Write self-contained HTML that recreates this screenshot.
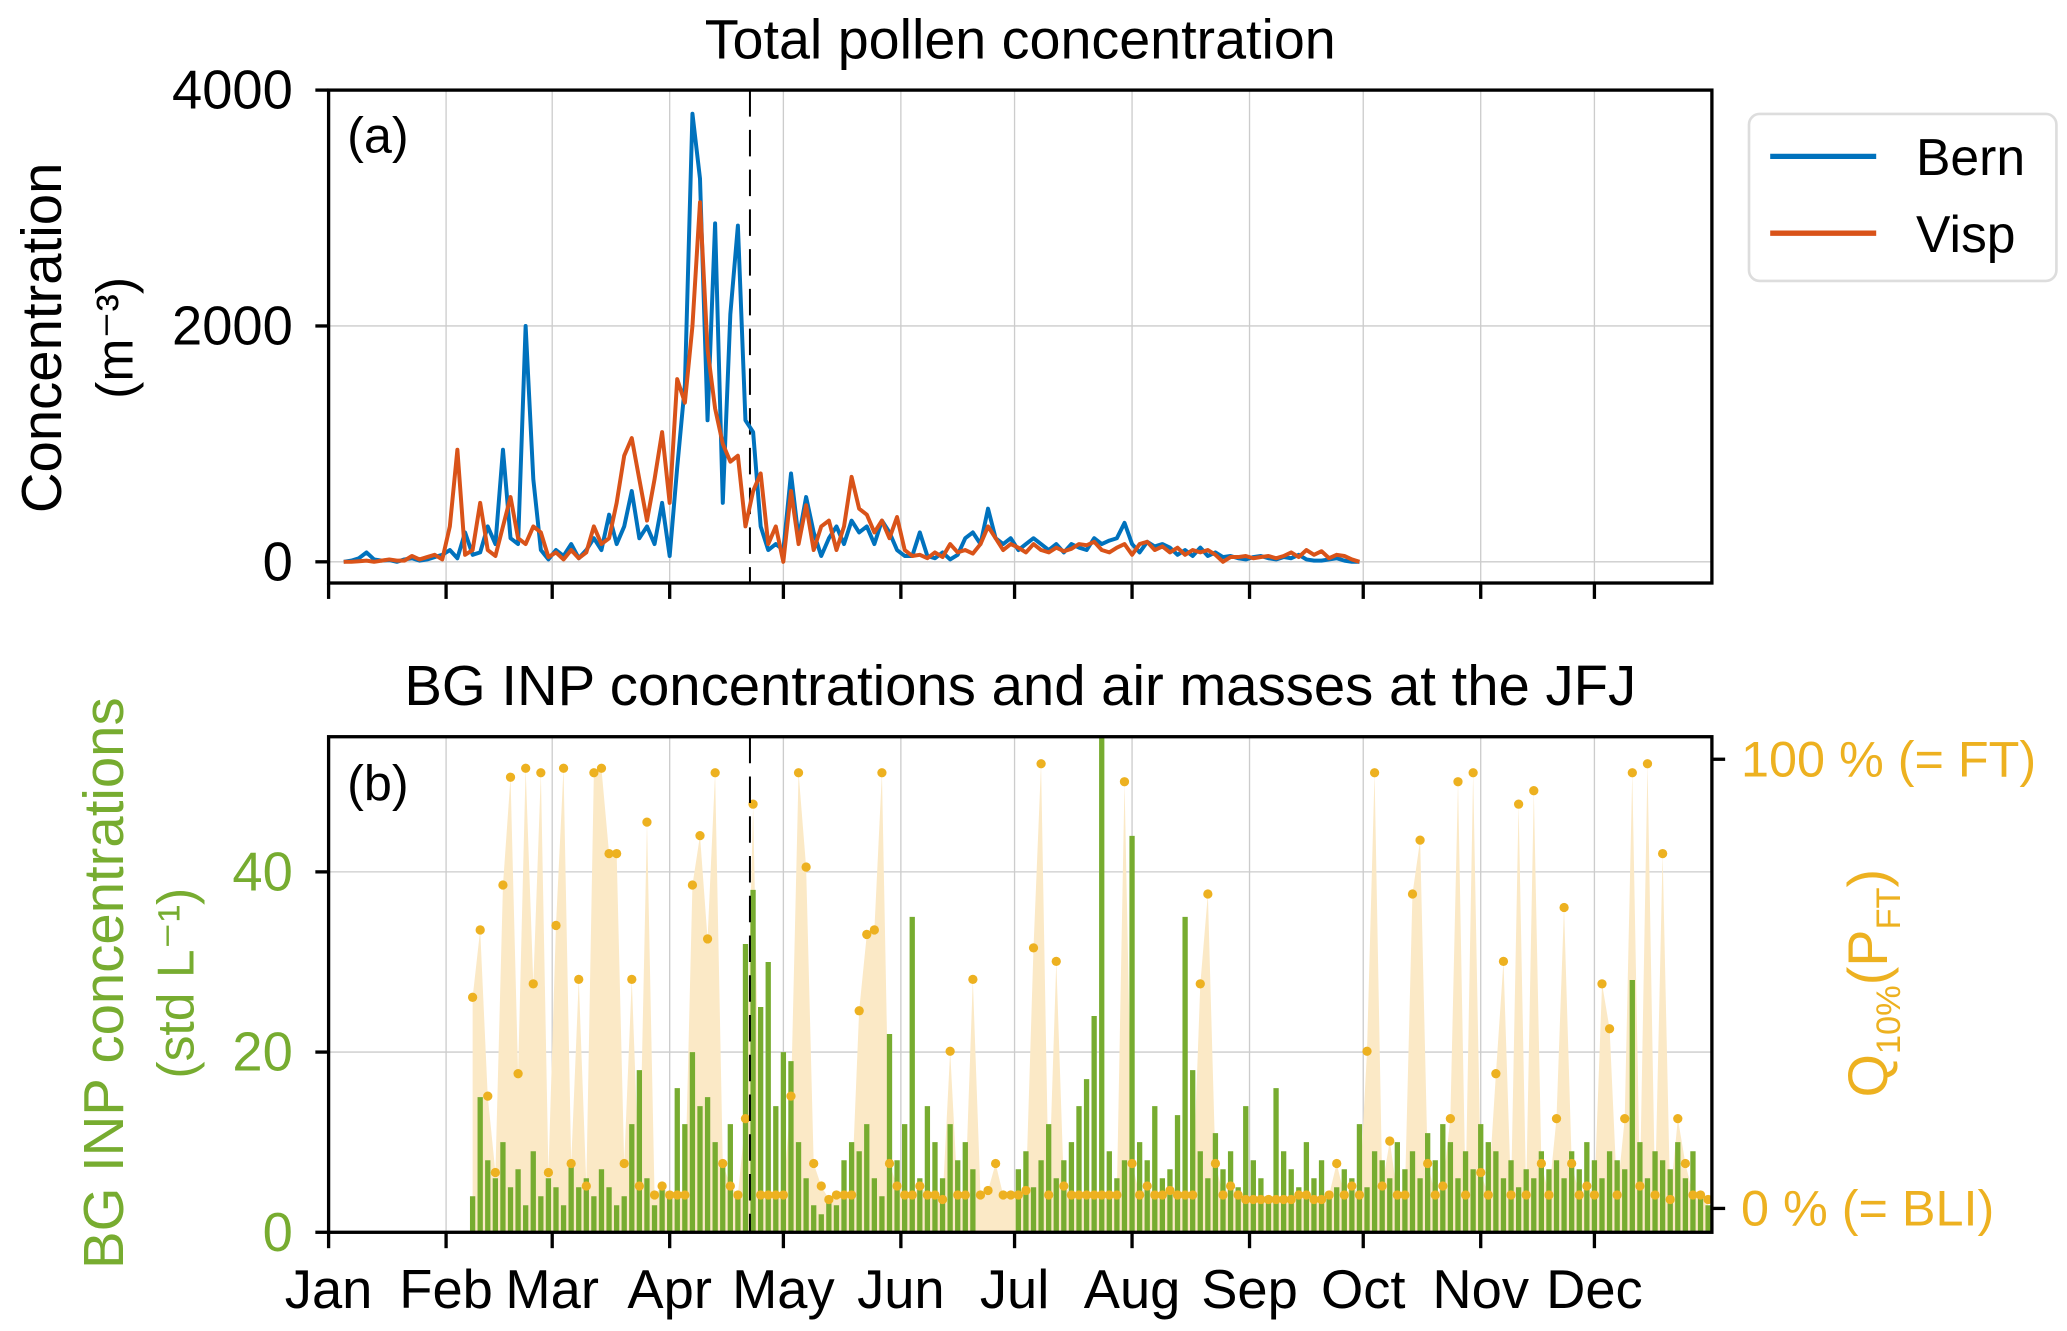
<!DOCTYPE html>
<html><head><meta charset="utf-8">
<style>
html,body{margin:0;padding:0;background:#fff;}
svg{display:block;font-family:"Liberation Sans",sans-serif;}
</style></head>
<body>
<svg id="chart" width="2067" height="1331" viewBox="0 0 1560 1004.5" preserveAspectRatio="none" xmlns="http://www.w3.org/2000/svg">
<g id="topPanel"></g>
<g id="botPanel"></g>
</svg>
<script>
// ---------- data ----------
const months = ["Jan","Feb","Mar","Apr","May","Jun","Jul","Aug","Sep","Oct","Nov","Dec"];
const monthStartDays = [0,31,59,90,120,151,181,212,243,273,304,334];
const pollenTicks = [0,2000,4000];
const inpTicks = [0,20,40];
const pollenStartDay = 4;
const pollenStepDays = 2;
const bern = [0,10,30,80,20,10,15,0,20,30,10,20,40,60,100,30,250,60,80,300,150,950,200,150,2000,700,100,20,100,50,150,30,100,200,100,400,150,300,600,200,300,150,500,50,800,1500,3800,3250,1200,2870,500,2100,2850,1200,1100,300,100,150,100,750,200,550,250,50,200,300,150,350,250,300,150,350,250,100,50,50,250,50,30,80,20,60,200,250,150,450,200,150,200,100,150,200,150,100,150,80,150,120,100,200,150,180,200,330,150,80,170,130,150,120,60,100,50,120,50,80,40,50,30,20,40,50,30,20,40,30,60,20,10,10,20,30,10,0,0];
const visp = [0,0,5,10,0,10,20,10,10,50,20,40,60,20,300,950,60,100,500,100,50,300,550,200,150,300,250,40,80,20,100,30,80,300,150,200,500,900,1050,700,350,700,1100,500,1550,1350,2000,3050,1800,1300,1000,850,900,300,600,750,150,300,0,600,150,480,100,300,350,100,300,720,450,400,250,350,200,380,100,50,60,30,80,40,150,80,100,70,150,300,200,100,150,120,80,150,100,80,120,90,110,150,140,170,100,80,120,150,60,150,170,100,130,80,120,60,100,80,100,60,0,40,40,50,30,40,50,30,50,80,40,100,60,90,30,60,50,20,0];
const inpStartDay = 38;
const inpStepDays = 2;
const inp = [4,15,8,6,10,5,7,3,9,4,6,5,
 3,8,5,6,4,7,5,3,4,12,18,6,
 3,5,4,16,12,20,14,15,10,8,12,4,
 32,38,25,30,14,20,19,10,6,3,2,4,
 3,8,10,9,12,6,4,22,8,12,35,6,
 14,10,6,12,8,10,7,null,null,null,null,null,
 7,9,5,8,12,6,8,10,14,17,24,55,
 9,6,8,44,10,8,14,6,7,13,35,18,
 9,6,11,7,9,5,14,8,6,4,16,9,
 7,5,10,6,8,4,5,7,6,12,5,9,
 8,6,10,7,9,6,11,8,12,10,6,9,
 7,12,10,9,6,8,5,7,6,9,7,8,
 6,9,7,10,8,6,9,8,7,28,10,6,
 9,8,7,10,6,9,4,3];
const qStartDay = 38;
const qStepDays = 2;
const qft = [0.47,0.62,0.25,0.08,0.72,0.96,0.3,0.98,0.5,0.97,0.08,0.63,0.98,0.1,0.51,0.05,0.97,0.98,0.79,0.79,0.1,0.51,0.05,0.86,0.03,0.05,0.03,0.03,0.03,0.72,0.83,0.6,0.97,0.1,0.05,0.03,0.2,0.9,0.03,0.03,0.03,0.03,0.25,0.97,0.76,0.1,0.05,0.02,0.03,0.03,0.03,0.44,0.61,0.62,0.97,0.1,0.05,0.03,0.03,0.05,0.03,0.03,0.02,0.35,0.03,0.03,0.51,0.03,0.04,0.1,0.03,0.03,0.03,0.04,0.58,0.99,0.03,0.55,0.05,0.03,0.03,0.03,0.03,0.03,0.03,0.03,0.95,0.1,0.03,0.05,0.03,0.03,0.04,0.03,0.03,0.03,0.5,0.7,0.1,0.03,0.05,0.03,0.02,0.02,0.02,0.02,0.02,0.02,0.02,0.03,0.03,0.02,0.02,0.03,0.1,0.03,0.05,0.03,0.35,0.97,0.05,0.15,0.03,0.03,0.7,0.82,0.1,0.03,0.05,0.2,0.95,0.03,0.97,0.08,0.03,0.3,0.55,0.03,0.9,0.03,0.93,0.1,0.03,0.2,0.67,0.1,0.03,0.05,0.03,0.5,0.4,0.03,0.2,0.97,0.05,0.99,0.03,0.79,0.02,0.2,0.1,0.03,0.03,0.02];

// ---------- layout ----------
const NS="http://www.w3.org/2000/svg";
const L=248, R=1292;
const xDay = d => L + d*(R-L)/365;
const A = {top:68, zero:424, bottom:440};
const yPollen = v => A.zero - v*(A.zero-A.top)/4000;
const B = {top:556, bottom:930};
const yInp = v => B.bottom - v*(B.bottom-B.top)/55;
const yQ = f => 912 - f*(912-573);

function el(tag, attrs, parent, text){
  const e=document.createElementNS(NS,tag);
  for(const k in attrs) e.setAttribute(k,attrs[k]);
  if(text!==undefined) e.textContent=text;
  parent.appendChild(e); return e;
}
const topG=document.getElementById('topPanel'), botG=document.getElementById('botPanel');

// ---------- panel a ----------
el('text',{x:770,y:44,'font-size':42,'text-anchor':'middle',},topG,'Total pollen concentration');
monthStartDays.forEach((d,i)=>{
  const g=el('line',{x1:xDay(d),x2:xDay(d),y1:A.top,y2:A.bottom,stroke:'#ccc','stroke-width':1},topG);
  
  
  const t=el('line',{x1:xDay(d),x2:xDay(d),y1:A.bottom,y2:A.bottom+12,stroke:'#000','stroke-width':2.5},topG);
  
  
});
pollenTicks.forEach(v=>{
  const y=yPollen(v);
  const g=el('line',{x1:L,x2:R,y1:y,y2:y,stroke:'#ccc','stroke-width':1},topG);
  
  
  el('line',{x1:L-10,x2:L,y1:y,y2:y,stroke:'#000','stroke-width':2.5},topG);
  const t=el('text',{x:L-27,y:y+14,'font-size':41,'text-anchor':'end'},topG,String(v));
  
  
});
el('line',{x1:566,x2:566,y1:A.top,y2:A.bottom,stroke:'#000','stroke-width':1.5,'stroke-dasharray':'20,10',},topG);
function series(vals,color,name){
  const pts=vals.map((v,i)=>xDay(pollenStartDay+i*pollenStepDays).toFixed(1)+','+yPollen(v).toFixed(1)).join(' ');
  const p=el('polyline',{points:pts,fill:'none',stroke:color,'stroke-width':3,'stroke-linejoin':'round'},topG);
  
  
}
series(bern,'#0072bd','line-bern');
series(visp,'#d95319','line-visp');
el('rect',{x:L,y:A.top,width:R-L,height:A.bottom-A.top,fill:'none',stroke:'#000','stroke-width':2.5,},topG);
el('text',{x:262,y:115,'font-size':38,},topG,'(a)');
el('text',{x:0,y:0,'font-size':42.5,'text-anchor':'middle',transform:'translate(46,255) rotate(-90)',},topG,'Concentration');
el('text',{x:0,y:0,'font-size':39,'text-anchor':'middle',transform:'translate(100,255) rotate(-90)',},topG,'(m⁻³)');
// legend
const lg=el('g',{},topG);
el('rect',{x:1320,y:86,width:232,height:126,rx:8,fill:'#fff',stroke:'#ddd','stroke-width':2},lg);
el('line',{x1:1336,x2:1416,y1:118,y2:118,stroke:'#0072bd','stroke-width':4,},lg);
el('text',{x:1446,y:132,'font-size':39,},lg,'Bern');
el('line',{x1:1336,x2:1416,y1:176,y2:176,stroke:'#d95319','stroke-width':4,},lg);
el('text',{x:1446,y:190,'font-size':39,},lg,'Visp');

// ---------- panel b ----------
el('text',{x:770,y:532,'font-size':42.5,'text-anchor':'middle',},botG,'BG INP concentrations and air masses at the JFJ');
monthStartDays.forEach((d,i)=>{
  const g=el('line',{x1:xDay(d),x2:xDay(d),y1:B.top,y2:B.bottom,stroke:'#ccc','stroke-width':1},botG);
  
  
  el('line',{x1:xDay(d),x2:xDay(d),y1:B.bottom,y2:B.bottom+12,stroke:'#000','stroke-width':2.5},botG);
  const t=el('text',{x:xDay(d),y:987,'font-size':41,'text-anchor':'middle'},botG,months[i]);
  
  
});
inpTicks.forEach(v=>{
  const y=yInp(v);
  const g=el('line',{x1:L,x2:R,y1:y,y2:y,stroke:'#ccc','stroke-width':1},botG);
  
  
  el('line',{x1:L-10,x2:L,y1:y,y2:y,stroke:'#000','stroke-width':2.5},botG);
  const t=el('text',{x:L-27,y:y+14,'font-size':41,'text-anchor':'end',fill:'#77ac30'},botG,String(v));
  
  
});
// Q fill area
let area='M'+xDay(qStartDay).toFixed(1)+','+yQ(0);
qft.forEach((f,i)=>{ area+=' L'+xDay(qStartDay+i*qStepDays).toFixed(1)+','+yQ(f).toFixed(1); });
area+=' L'+xDay(qStartDay+(qft.length-1)*qStepDays).toFixed(1)+','+B.bottom+' L'+xDay(qStartDay).toFixed(1)+','+B.bottom+' Z';
el('path',{d:area,fill:'#fbe9c6',stroke:'none',},botG);
// INP bars
inp.forEach((v,i)=>{
  if(v===null) return;
  const x=xDay(inpStartDay+i*inpStepDays);
  const b=el('line',{x1:x,x2:x,y1:B.bottom,y2:Math.max(B.top,yInp(v)),stroke:'#77ac30','stroke-width':4},botG);
  
  
});
// Q dots
qft.forEach((f,i)=>{
  const c=el('circle',{cx:xDay(qStartDay+i*qStepDays),cy:yQ(f),r:3.5,fill:'#edb120'},botG);
  
  
});
el('line',{x1:566,x2:566,y1:B.top,y2:B.bottom,stroke:'#000','stroke-width':1.5,'stroke-dasharray':'20,10',},botG);
el('rect',{x:L,y:B.top,width:R-L,height:B.bottom-B.top,fill:'none',stroke:'#000','stroke-width':2.5,},botG);
el('text',{x:262,y:604,'font-size':38,},botG,'(b)');
// right axis
[[0,'0 % (= BLI)'],[1,'100 % (= FT)']].forEach(([f,lab])=>{
  el('line',{x1:R,x2:R+10,y1:yQ(f),y2:yQ(f),stroke:'#000','stroke-width':2.5},botG);
  const t=el('text',{x:R+22,y:yQ(f)+13,'font-size':38,fill:'#edb120'},botG,lab);
  
  
});
el('text',{x:0,y:0,'font-size':42.5,'text-anchor':'middle',fill:'#77ac30',transform:'translate(93,742) rotate(-90)',},botG,'BG INP concentrations');
el('text',{x:0,y:0,'font-size':39,'text-anchor':'middle',fill:'#77ac30',transform:'translate(146,742) rotate(-90)',},botG,'(std L⁻¹)');
const rt=el('text',{x:0,y:0,'font-size':42,'text-anchor':'middle',fill:'#edb120',transform:'translate(1424,742) rotate(-90)',},botG);
rt.innerHTML='Q<tspan font-size="26" dy="10">10%</tspan><tspan dy="-10">(P</tspan><tspan font-size="26" dy="10">FT</tspan><tspan dy="-10">)</tspan>';
</script>
</body></html>
